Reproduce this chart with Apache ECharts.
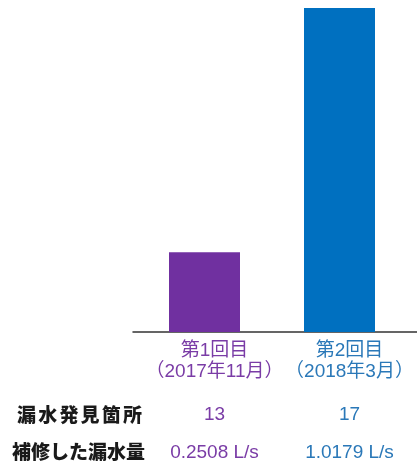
<!DOCTYPE html>
<html>
<head>
<meta charset="utf-8">
<script src="https://cdn.jsdelivr.net/npm/echarts@6/dist/echarts.min.js"></script>
<style>
  html, body { margin: 0; padding: 0; background: #ffffff; }
  #chart { width: 417px; height: 466px; }
</style>
</head>
<body>
<div id="chart"></div>
<script>
// Survey rounds
const roundNames = ['第1回目', '第2回目'];
const roundDates = ['（2017年11月）', '（2018年3月）'];
// Leak points found in each round
const leakCounts = [13, 17];
// Repaired leak volume (L/s) per round
const leakVolumes = [0.2508, 1.0179];
// Row headings for the table under the bars
const rowHeadings = ['漏水発見箇所', '補修した漏水量'];
// Round colours
const roundColors = ['#7030A0', '#0070C0'];
const textColors = ['#7A3CA6', '#2A78B8'];

const chart = echarts.init(document.getElementById('chart'), null, { renderer: 'canvas' });

const latin = '"Liberation Sans", Arial, "Noto Sans CJK JP", sans-serif';
const cjk = '"Noto Sans CJK JP", sans-serif';

function richFor(size, lh) {
  const r = {};
  textColors.forEach((c, i) => {
    r['c' + i] = { color: c, fontSize: size, fontFamily: latin, lineHeight: lh, align: 'center' };
  });
  return r;
}

// Row heading with a little extra spacing between characters
function spaced(text) {
  return text.split('').map(ch => `{g|${ch}}`).join('');
}

const gridBox = { top: 8, bottom: 134 };

// Shared settings for the text rows hanging under the category axis
function labelRow(data, margin, fmt, size, lh) {
  return {
    type: 'category', gridIndex: 0, data: data, position: 'bottom',
    axisLine: { show: false }, axisTick: { show: false },
    axisLabel: {
      interval: 0, margin: margin, padding: [0, 0, 0, 20],
      formatter: fmt, rich: richFor(size, lh)
    }
  };
}

chart.setOption({
  animation: false,
  backgroundColor: '#ffffff',
  grid: [
    { left: 137, width: 270, top: gridBox.top, bottom: gridBox.bottom },
    { left: 133, right: 0, top: gridBox.top, bottom: gridBox.bottom }
  ],
  xAxis: [
    labelRow(roundNames, 8,
      (v, i) => `{c${i}|${roundNames[i]}}\n{c${i}|${roundDates[i]}}`, 19, 21),
    labelRow(leakCounts.map(String), 73,
      (v, i) => `{c${i}|${leakCounts[i]}}`, 19, 20),
    labelRow(leakVolumes.map(String), 111,
      (v, i) => `{c${i}|${leakVolumes[i].toFixed(4)} L/s}`, 19, 20),
    {
      type: 'value', gridIndex: 1, min: 0, max: 1,
      axisLine: { show: true, onZero: false, lineStyle: { color: '#333333', width: 1.5 } },
      axisTick: { show: false }, axisLabel: { show: false }, splitLine: { show: false }
    }
  ],
  yAxis: [
    {
      type: 'value', gridIndex: 0, min: 0, max: leakVolumes[1],
      show: false, splitLine: { show: false }
    },
    { type: 'value', gridIndex: 1, show: false, splitLine: { show: false } }
  ],
  series: [
    {
      type: 'bar', xAxisIndex: 0, yAxisIndex: 0,
      barWidth: 71,
      data: leakVolumes.map((v, i) => ({ value: v, itemStyle: { color: roundColors[i] } }))
    }
  ],
  graphic: [
    {
      type: 'text', left: 17, top: 405,
      style: {
        text: spaced(rowHeadings[0]),
        rich: { g: { font: `900 19px ${cjk}`, fill: '#1a1a1a', padding: [0, 1.1, 0, 1.1] } }
      }
    },
    {
      type: 'text', left: 12, top: 442,
      style: { text: rowHeadings[1], font: `900 19px ${cjk}`, fill: '#1a1a1a' }
    }
  ]
});
</script>
</body>
</html>
